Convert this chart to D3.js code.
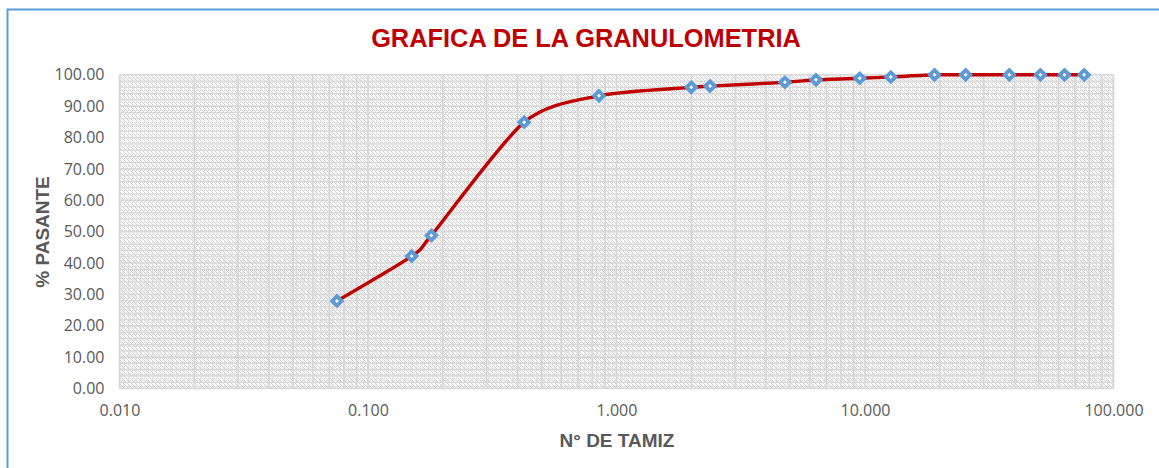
<!DOCTYPE html>
<html>
<head>
<meta charset="utf-8">
<script src="https://cdn.jsdelivr.net/npm/d3@7"></script>
<style>
  body { margin: 0; background: #fff; }
  svg text { font-family: "Open Sans", "Liberation Sans", sans-serif; }
</style>
</head>
<body>
<div id="grafica"></div>
<script>
// abertura del tamiz (mm) y % que pasa
var abertura = [76.2, 63.5, 50.8, 38.1, 25.4, 19.05, 12.7, 9.525, 6.35, 4.76, 2.38, 2.00, 0.85, 0.425, 0.18, 0.15, 0.075];
var pasante  = [100, 100, 100, 100, 100, 100, 99.3, 98.9, 98.4, 97.6, 96.4, 96.0, 93.3, 84.9, 48.8, 42.2, 27.9];
var xTicks = [0.01, 0.1, 1, 10, 100];
var yTicks = [0, 10, 20, 30, 40, 50, 60, 70, 80, 90, 100];

var W = 1159, H = 468;
var mLeft = 119.5, mRight = 1113.5, mTop = 74.8, mBottom = 388.5;

var svg = d3.select("#grafica").append("svg")
            .attr("width", W)
            .attr("height", H);

var defs = svg.append("defs");
var hatch = defs.append("pattern")
                .attr("id", "hatch")
                .attr("patternUnits", "userSpaceOnUse")
                .attr("width", 4)
                .attr("height", 4);
hatch.append("rect").attr("width", 4).attr("height", 4).style("fill", "#f8f8f8");
hatch.append("path")
     .attr("d", "M-1,1 l2,2 M0,0 l4,4 M3,-1 l2,2")
     .style("stroke", "#d6d6d6")
     .style("stroke-width", 1);

var dots = defs.append("pattern")
               .attr("id", "dots")
               .attr("patternUnits", "userSpaceOnUse")
               .attr("width", 6)
               .attr("height", 6);
dots.append("circle").attr("cx", 3).attr("cy", 3).attr("r", 1.3)
    .style("fill", "none").style("stroke", "#cfcfcf").style("stroke-width", 0.8);

// marco exterior
svg.append("rect")
   .attr("x", 7.5)
   .attr("y", 9.5)
   .attr("width", 1300)
   .attr("height", 600)
   .style("fill", "#fff")
   .style("stroke", "#5b9bd5")
   .style("stroke-width", 2);

var x = d3.scaleLog().domain([0.01, 100]).range([mLeft, mRight]);
var y = d3.scaleLinear().domain([0, 100]).range([mBottom, mTop]);

// fondo con trama
svg.append("rect")
   .attr("x", mLeft).attr("y", mTop)
   .attr("width", mRight - mLeft).attr("height", mBottom - mTop)
   .style("fill", "url(#hatch)");
svg.append("rect")
   .attr("x", mLeft).attr("y", y(45))
   .attr("width", mRight - mLeft).attr("height", mBottom - y(45))
   .style("fill", "url(#dots)")
   .style("opacity", 0.8);

// rejilla vertical (log)
var vLines = [];
for (var d = -2; d < 2; d++) {
  for (var m = 1; m < 10; m++) vLines.push(m * Math.pow(10, d));
}
vLines.push(100);
svg.append("g").selectAll("line")
   .data(vLines)
   .enter().append("line")
   .attr("x1", function (v) { return x(v); })
   .attr("x2", function (v) { return x(v); })
   .attr("y1", mTop)
   .attr("y2", mBottom)
   .style("stroke", "#d6d6d6")
   .style("stroke-width", 1.5);

// rejilla horizontal
svg.append("g").selectAll("line")
   .data(d3.range(0, 101, 2))
   .enter().append("line")
   .attr("x1", mLeft)
   .attr("x2", mRight)
   .attr("y1", function (v) { return y(v); })
   .attr("y2", function (v) { return y(v); })
   .style("stroke", "#d9d9d9")
   .style("stroke-width", function (v) { return v % 10 == 0 ? 1.6 : 1.2; });

// ejes
var yAxis = d3.axisLeft(y).tickValues(yTicks).tickSize(0).tickPadding(15)
              .tickFormat(d3.format(".2f"));
var gy = svg.append("g").attr("transform", "translate(" + mLeft + ",0)").call(yAxis);
gy.select(".domain").remove();
gy.selectAll("text").style("font-size", "16px").style("fill", "#595959");

var xAxis = d3.axisBottom(x).tickValues(xTicks).tickSize(0).tickPadding(16)
              .tickFormat(d3.format(".3f"));
var gx = svg.append("g").attr("transform", "translate(0," + mBottom + ")").call(xAxis);
gx.select(".domain").remove();
gx.selectAll("text").style("font-size", "16px").style("fill", "#595959");

// curva
var pts = abertura.map(function (a, i) { return [x(a), y(pasante[i])]; });
pts.sort(function (a, b) { return a[0] - b[0]; });
var line = d3.line().curve(d3.curveCardinal.tension(0.2));
svg.append("path")
   .attr("d", line(pts))
   .style("fill", "none")
   .style("stroke", "#c00000")
   .style("stroke-width", 3.4);

// marcadores
svg.append("g").selectAll("rect")
   .data(pts)
   .enter().append("rect")
   .attr("x", -3.3)
   .attr("y", -3.3)
   .attr("width", 6.6)
   .attr("height", 6.6)
   .attr("transform", function (p) { return "translate(" + p[0] + "," + p[1] + ") rotate(45)"; })
   .style("fill", "#fff")
   .style("stroke", "#5b9bd5")
   .style("stroke-width", 3.8);

// titulos
svg.append("text")
   .attr("x", 586)
   .attr("y", 47)
   .attr("text-anchor", "middle")
   .style("font-family", "Liberation Sans, Arial, sans-serif")
   .style("font-weight", "bold")
   .style("font-size", "25.4px")
   .style("fill", "#c00000")
   .text("GRAFICA DE LA GRANULOMETRIA");

svg.append("text")
   .attr("x", 617)
   .attr("y", 447)
   .attr("text-anchor", "middle")
   .style("font-family", "Liberation Sans, Arial, sans-serif")
   .style("font-weight", "bold")
   .style("font-size", "19px")
   .style("fill", "#595959")
   .text("N° DE TAMIZ");

svg.append("text")
   .attr("transform", "translate(49,232) rotate(-90)")
   .attr("text-anchor", "middle")
   .style("font-family", "Liberation Sans, Arial, sans-serif")
   .style("font-weight", "bold")
   .style("font-size", "19px")
   .style("fill", "#595959")
   .text("% PASANTE");
</script>
</body>
</html>
